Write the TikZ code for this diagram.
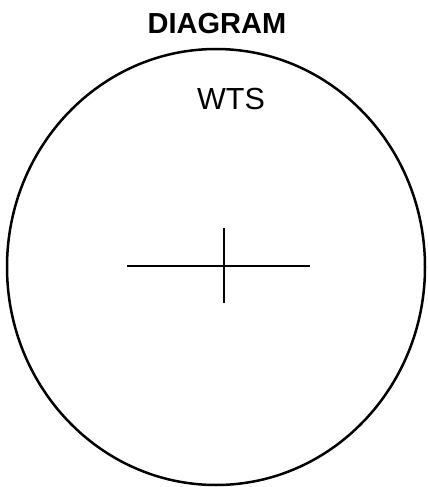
\documentclass[tikz,border=0pt]{standalone}
\usepackage{fontspec}
\setmainfont{Liberation Sans}
\tikzset{
  rim/.style={draw=black, line width=2.5pt},
  hair/.style={draw=black, line width=2.5pt},
  ttl/.style={font=\fontsize{29}{29}\selectfont\bfseries, anchor=base},
  lbl/.style={font=\fontsize{30.5}{30.5}\selectfont, anchor=base},
}
\begin{document}
\begin{tikzpicture}[x=1pt, y=-1pt]
  \useasboundingbox (0,0) rectangle (428,487);
  \node[ttl] (title) at (217,34) {DIAGRAM};
  \draw[rim] (216,267) ellipse [x radius=209, y radius=218];
  \node[lbl] (wts) at (231,109) {WTS};
  % cross
  \coordinate (hl) at (127,266);
  \coordinate (hr) at (310,266);
  \coordinate (vt) at (224,228);
  \coordinate (vb) at (224,303);
  \draw[hair] (hl) -- (hr);
  \draw[hair] (vt) -- (vb);
\end{tikzpicture}
\end{document}
